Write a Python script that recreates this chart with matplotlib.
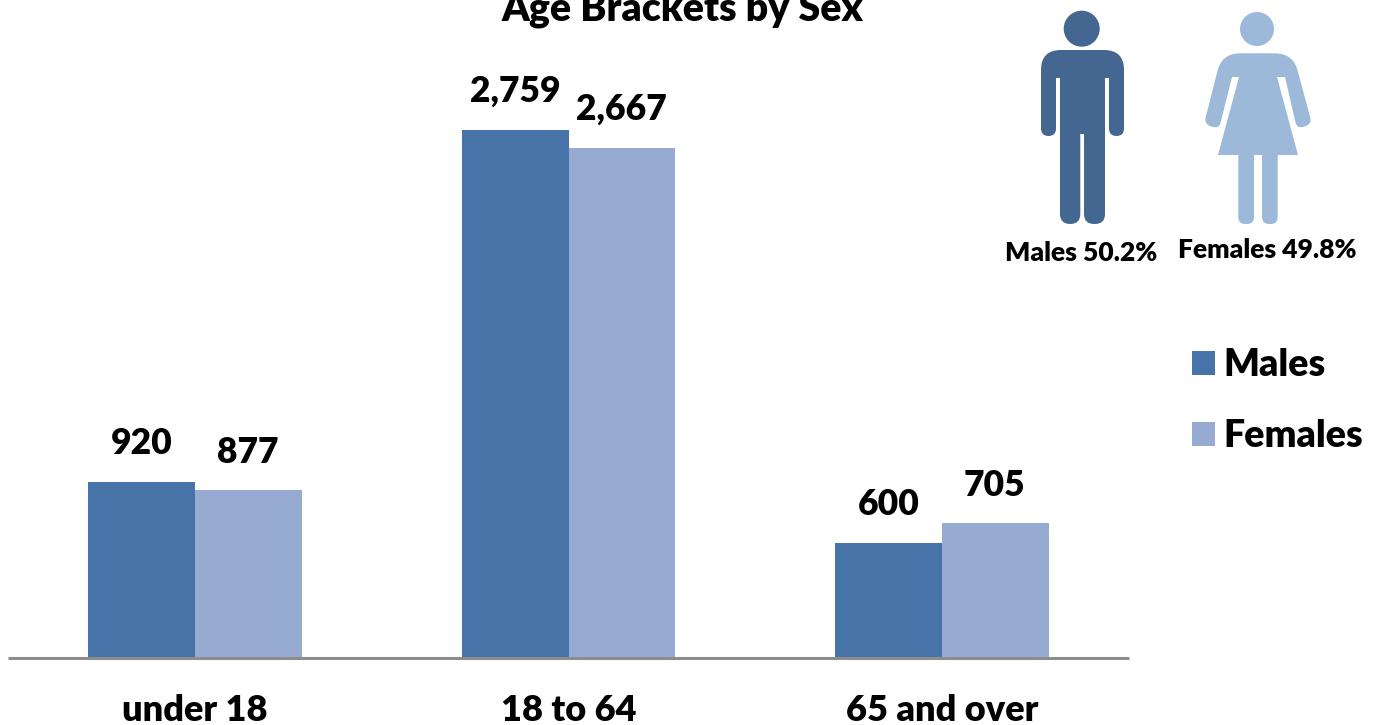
import matplotlib
matplotlib.use("Agg")
import matplotlib.pyplot as plt
import numpy as np
from matplotlib.path import Path
from matplotlib.patches import PathPatch, Circle

plt.rcParams['font.family'] = ['Lato', 'DejaVu Sans']
plt.rcParams['font.weight'] = 'heavy'

categories = ['under 18', '18 to 64', '65 and over']
males = [920, 2759, 600]
females = [877, 2667, 705]
male_labels = ['920', '2,759', '600']
female_labels = ['877', '2,667', '705']
series_names = ['Males', 'Females']

male_col = '#4674a8'
female_col = '#97aad1'
male_icon = '#446791'
female_icon = '#9db9da'

W, H = 1376, 725
fig = plt.figure(figsize=(W / 100, H / 100), dpi=100)

# chart area, baseline sits at y=658 px
ax = fig.add_axes([8 / W, (H - 658) / H, 1121 / W, 640 / H])
x = np.arange(len(categories))
bw = 0.2857
b1 = ax.bar(x - bw / 2, males, bw, color=male_col, label=series_names[0])
b2 = ax.bar(x + bw / 2, females, bw, color=female_col, label=series_names[1])
ax.set_xlim(-0.5, 2.5)
ax.set_ylim(0, 640 / 0.1914)
for s in ['top', 'left', 'right']:
    ax.spines[s].set_visible(False)
ax.spines['bottom'].set_color('#8c8c8c')
ax.spines['bottom'].set_linewidth(2.2)
ax.spines['bottom'].set_capstyle('butt')
ax.patch.set_alpha(0)
ax.set_yticks([])
ax.set_xticks(x)
ax.set_xticklabels(categories, fontsize=26, fontweight='heavy')
ax.tick_params(axis='x', length=0, pad=26)

# value labels
for i in range(len(categories)):
    ax.annotate(male_labels[i], (x[i] - bw / 2, males[i]), xytext=(0, 16), textcoords='offset points',
                ha='center', va='bottom', fontsize=25.5, fontweight='heavy')
    ax.annotate(female_labels[i], (x[i] + bw / 2, females[i]), xytext=(-0.5, 15.5), textcoords='offset points',
                ha='center', va='bottom', fontsize=25.5, fontweight='heavy')

fig.text(682 / W, 1 - 9 / H, 'Age Brackets by Sex', ha='center', va='center', fontsize=28.3, fontweight='heavy')

leg = fig.legend(handles=[b1, b2], loc='upper left', bbox_to_anchor=(1192 / W, 1 - 348 / H), frameon=False,
                 fontsize=27, handlelength=0.61, handleheight=0.61, handletextpad=0.22, labelspacing=0.98,
                 borderaxespad=0, borderpad=0)


# overlay in pixel coords for the pictograms
ov = fig.add_axes([0, 0, 1, 1])
ov.set_xlim(0, W)
ov.set_ylim(H, 0)
ov.axis('off')


def round_poly(pts):
    # closed outline, each point is x, y, corner radius
    verts, codes = [], []
    n = len(pts)
    for i in range(n):
        p = np.array(pts[i][:2], float)
        r = pts[i][2]
        a = np.array(pts[i - 1][:2], float)
        b = np.array(pts[(i + 1) % n][:2], float)
        if r == 0:
            verts.append(p)
            codes.append(Path.LINETO)
            continue
        u = (a - p) / np.linalg.norm(a - p)
        v = (b - p) / np.linalg.norm(b - p)
        verts += [p + u * r, p, p + v * r]
        codes += [Path.LINETO, Path.CURVE3, Path.CURVE3]
    codes[0] = Path.MOVETO
    verts.append(verts[0])
    codes.append(Path.CLOSEPOLY)
    return Path(verts, codes)


man = [(1041, 50, 20), (1124, 50, 20), (1124, 136, 7.5), (1109, 136, 7.5), (1109, 78, 0), (1105, 78, 0),
       (1105, 224, 10), (1084, 224, 10), (1084, 134, 0), (1080.3, 134, 0), (1080.3, 224, 10), (1060, 224, 10),
       (1060, 78, 0), (1056, 78, 0), (1056, 136, 7.5), (1041, 136, 7.5)]
woman = [(1222, 53.3, 18), (1293, 53.3, 18), (1312, 124, 7), (1297, 129, 7), (1285, 77, 0), (1277, 77, 0),
         (1298, 155, 0), (1277.7, 155, 0), (1277.7, 224, 7), (1262, 224, 7), (1262, 155, 0), (1254, 155, 0),
         (1254, 224, 7), (1238.3, 224, 7), (1238.3, 155, 0), (1218, 155, 0), (1239, 77, 0), (1232, 77, 0),
         (1219, 129, 7), (1204, 124, 7)]

ov.add_patch(PathPatch(round_poly(man), fc=male_icon, ec='none'))
ov.add_patch(Circle((1081.7, 28.7), 18, fc=male_icon, ec='none'))
ov.add_patch(PathPatch(round_poly(woman), fc=female_icon, ec='none'))
ov.add_patch(Circle((1257, 29), 17, fc=female_icon, ec='none'))

ov.text(1081, 252.5, 'Males 50.2%', ha='center', va='center', fontsize=19, fontweight='heavy')
ov.text(1267.5, 249.5, 'Females 49.8%', ha='center', va='center', fontsize=19, fontweight='heavy')

fig.savefig('out.png', dpi=100)
